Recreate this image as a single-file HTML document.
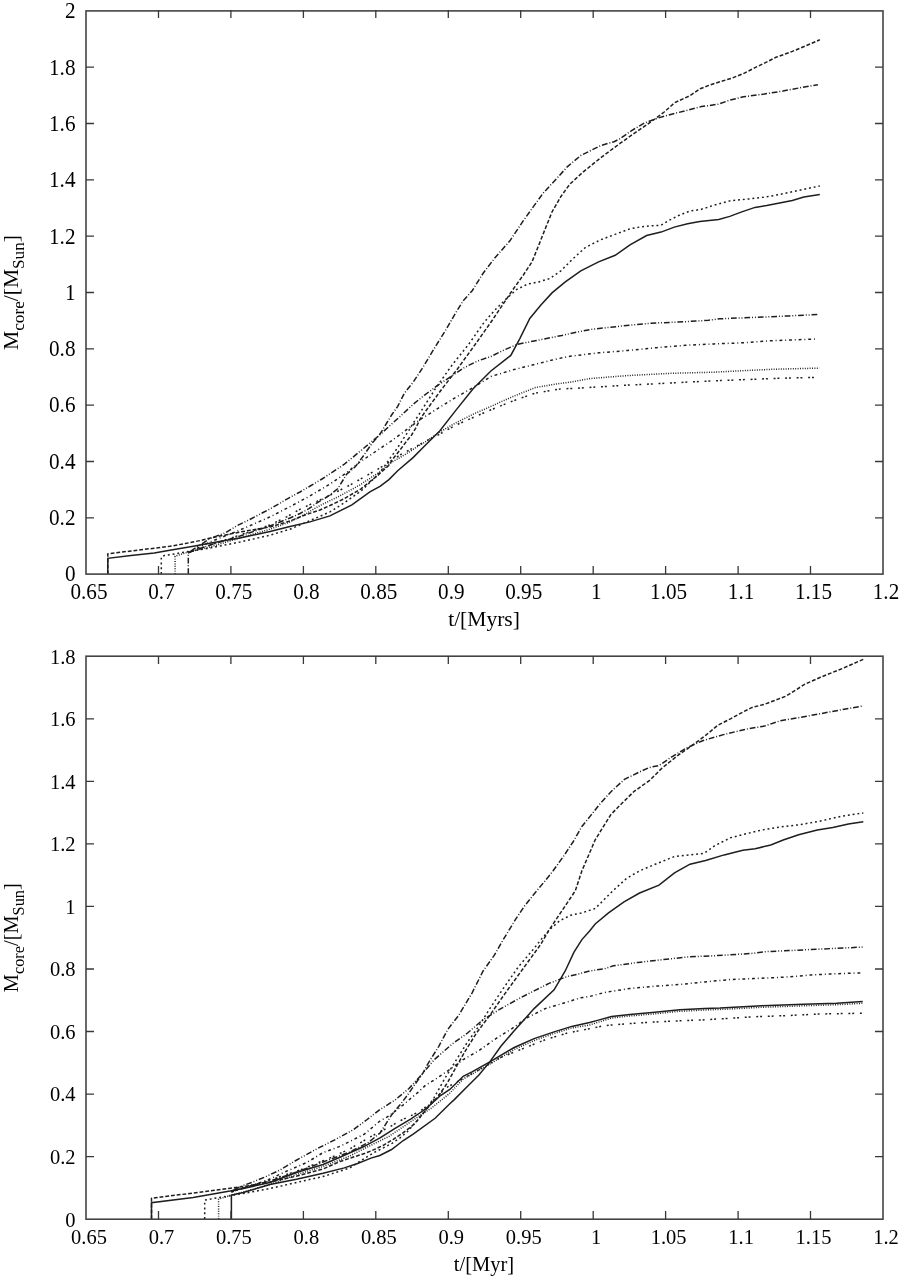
<!DOCTYPE html><html><head><meta charset="utf-8"><style>html,body{margin:0;padding:0;background:#fff;}svg{display:block;will-change:transform;}text{font-family:"Liberation Serif",serif;fill:#000;}</style></head><body>
<svg width="902" height="1277" viewBox="0 0 902 1277">
<rect width="902" height="1277" fill="#fff"/>
<path d="M107.8 574.0 L107.8 558.3 L131.0 555.6 L154.3 552.9 L169.8 550.2 L193.3 546.2 L216.6 541.9 L239.8 538.0 L270.0 531.6 L290.0 526.6 L309.9 521.9 L329.9 515.9 L351.9 504.9 L369.9 491.9 L380.0 486.3 L388.9 479.6 L397.7 470.7 L413.3 457.4 L424.3 446.3 L439.9 430.8 L455.4 410.9 L473.1 388.7 L490.9 371.0 L510.8 355.4 L519.7 338.8 L529.8 318.4 L540.9 305.1 L552.0 292.9 L565.3 281.9 L580.8 270.8 L598.6 261.9 L615.2 255.3 L630.0 244.9 L646.6 235.5 L661.0 232.1 L674.3 227.1 L687.6 223.8 L699.8 221.4 L718.7 219.4 L729.8 216.4 L741.1 212.1 L755.0 207.4 L766.7 205.6 L778.3 203.2 L792.3 200.4 L803.9 197.0 L819.8 194.6" fill="none" stroke="#1e1e1e" stroke-width="1.5"/>
<path d="M107.8 574.0 L107.8 553.8 L131.0 551.0 L154.3 548.2 L169.8 546.3 L185.5 543.5 L201.0 540.4 L210.4 538.0 L240.0 532.0 L270.0 527.0 L290.0 521.0 L305.0 515.0 L320.0 510.0 L330.0 505.5 L344.3 498.7 L361.0 488.8 L377.6 475.5 L388.7 465.5 L392.9 458.9 L400.3 449.6 L406.3 441.6 L411.6 435.0 L415.6 428.3 L420.2 419.0 L424.3 413.0 L442.1 388.7 L457.6 368.7 L475.3 344.3 L490.9 322.2 L503.2 304.0 L512.1 290.7 L523.2 275.2 L532.0 261.9 L538.7 245.3 L545.3 228.6 L552.0 212.0 L560.9 196.5 L569.7 184.3 L583.0 172.1 L600.8 157.7 L620.0 143.4 L631.6 135.2 L643.3 127.1 L654.9 119.0 L664.2 112.0 L674.7 102.7 L689.8 95.7 L700.3 88.7 L710.8 84.7 L720.1 81.7 L731.8 78.2 L743.4 73.6 L755.0 67.7 L764.4 63.1 L776.0 57.3 L792.3 51.4 L806.3 45.6 L819.8 39.8" fill="none" stroke="#1e1e1e" stroke-width="1.5" stroke-dasharray="3.84 1.92"/>
<path d="M161.3 574.0 L161.3 556.8 L164.4 555.6 L169.8 554.8 L185.0 552.0 L210.0 548.0 L240.0 542.0 L270.0 535.2 L290.0 529.2 L310.0 520.6 L330.0 511.9 L344.0 503.0 L361.0 491.0 L377.6 475.0 L385.0 465.5 L389.6 458.9 L394.9 451.6 L400.3 443.6 L404.9 436.3 L408.2 431.6 L412.9 423.6 L418.2 415.7 L425.0 405.0 L435.4 388.7 L451.0 366.5 L468.7 344.3 L484.2 322.2 L494.3 310.7 L505.4 299.6 L516.5 289.6 L527.6 284.1 L538.7 281.9 L549.8 278.5 L560.9 270.8 L572.0 259.7 L585.3 247.5 L600.8 239.7 L618.5 233.1 L630.0 228.8 L641.1 226.8 L652.2 225.7 L661.0 225.3 L668.8 220.5 L679.9 214.9 L689.9 211.1 L701.0 209.4 L713.1 205.5 L729.8 200.9 L750.4 198.8 L769.0 196.5 L787.6 192.8 L806.3 188.8 L819.8 186.0" fill="none" stroke="#1e1e1e" stroke-width="1.5" stroke-dasharray="1.92 2.88"/>
<path d="M175.1 574.0 L175.1 556.3 L185.0 553.0 L210.0 547.0 L240.0 538.0 L270.0 529.2 L290.0 521.9 L306.6 513.3 L320.0 505.5 L339.9 495.9 L359.9 484.9 L379.8 471.9 L388.9 464.1 L406.6 453.5 L424.3 442.5 L439.9 431.9 L455.4 423.1 L473.1 414.2 L490.9 406.4 L513.0 396.5 L535.2 387.6 L557.4 383.8 L570.0 382.2 L590.2 378.5 L627.7 375.6 L670.9 373.3 L714.1 372.2 L743.0 370.7 L771.8 369.3 L819.4 368.1" fill="none" stroke="#1e1e1e" stroke-width="1.5" stroke-dasharray="0.96 1.44"/>
<path d="M188.3 574.0 L188.3 552.7 L210.0 545.0 L240.0 536.0 L270.0 526.0 L290.0 518.0 L300.0 513.5 L308.9 508.7 L316.6 503.2 L327.7 496.5 L337.7 488.8 L346.6 474.3 L355.4 466.6 L364.0 455.0 L372.1 443.3 L380.3 433.6 L391.6 415.0 L397.7 406.4 L404.4 393.1 L413.3 382.0 L422.1 368.7 L435.4 346.6 L446.5 328.8 L455.4 313.3 L463.0 301.0 L472.2 290.7 L483.3 273.0 L494.3 258.6 L509.9 240.8 L523.2 220.9 L534.3 205.4 L543.1 193.2 L556.4 178.8 L567.5 166.6 L580.8 155.5 L600.8 145.5 L614.1 141.7 L620.0 138.7 L631.6 130.6 L643.3 123.6 L654.9 119.0 L666.6 115.5 L685.2 110.8 L701.5 106.6 L717.8 104.3 L729.4 100.3 L743.4 96.8 L764.4 94.0 L783.0 91.0 L801.6 87.5 L817.9 84.7" fill="none" stroke="#1e1e1e" stroke-width="1.5" stroke-dasharray="5.76 1.92 0.96 1.92"/>
<path d="M188.3 552.7 L210.0 542.0 L240.0 530.0 L270.0 516.9 L290.0 506.6 L309.9 496.0 L329.9 484.0 L344.9 473.9 L359.9 462.0 L374.9 452.0 L389.8 442.0 L402.2 433.0 L419.9 419.7 L437.6 408.6 L455.4 397.6 L473.1 387.6 L490.9 376.5 L513.0 369.8 L535.2 364.3 L557.4 358.8 L570.0 356.3 L598.8 352.8 L627.7 350.5 L656.5 347.7 L685.3 345.3 L714.1 343.9 L743.0 342.8 L771.8 340.7 L817.3 339.0" fill="none" stroke="#1e1e1e" stroke-width="1.5" stroke-dasharray="2.88 2.88 0.96 2.88"/>
<path d="M188.3 552.7 L210.0 545.0 L240.0 535.0 L270.0 525.0 L286.6 516.9 L299.9 509.3 L309.9 504.6 L319.9 500.0 L329.9 495.3 L350.0 485.0 L380.0 468.0 L400.0 455.0 L424.3 441.9 L437.6 435.3 L455.4 425.3 L473.1 417.5 L490.9 409.8 L513.0 400.9 L535.2 393.1 L561.8 388.7 L570.0 388.6 L598.8 386.9 L627.7 385.1 L656.5 383.7 L685.3 382.2 L714.1 380.8 L743.0 379.7 L771.8 378.5 L819.4 377.3" fill="none" stroke="#1e1e1e" stroke-width="1.5" stroke-dasharray="1.92 1.92 1.92 5.76"/>
<path d="M188.3 552.7 L210.0 538.5 L225.9 532.5 L236.5 525.9 L249.8 519.5 L263.1 512.5 L270.0 509.0 L290.0 497.3 L300.0 492.0 L322.0 479.0 L344.0 464.5 L364.0 448.0 L380.3 434.5 L390.0 425.5 L400.0 416.5 L413.3 404.2 L424.3 395.3 L437.6 385.4 L451.0 376.5 L464.3 367.6 L477.6 361.0 L490.9 356.5 L504.2 349.9 L517.5 344.3 L539.6 339.9 L561.8 335.5 L575.0 332.5 L590.2 329.5 L621.9 326.0 L650.7 323.2 L685.3 321.7 L708.4 320.3 L719.9 318.8 L754.5 317.4 L789.1 315.9 L818.5 314.5" fill="none" stroke="#1e1e1e" stroke-width="1.5" stroke-dasharray="0.96 1.92 5.76 1.92 0.96 1.92"/>
<rect x="86" y="10.9" width="797" height="563.2" fill="none" stroke="#444" stroke-width="1.6"/>
<path d="M158.5 574 v-8 M158.5 10 v8 M230.9 574 v-8 M230.9 10 v8 M303.4 574 v-8 M303.4 10 v8 M375.8 574 v-8 M375.8 10 v8 M448.3 574 v-8 M448.3 10 v8 M520.7 574 v-8 M520.7 10 v8 M593.2 574 v-8 M593.2 10 v8 M665.6 574 v-8 M665.6 10 v8 M738.1 574 v-8 M738.1 10 v8 M810.5 574 v-8 M810.5 10 v8 M86 517.8 h8 M883 517.8 h-8 M86 461.5 h8 M883 461.5 h-8 M86 405.1 h8 M883 405.1 h-8 M86 348.8 h8 M883 348.8 h-8 M86 292.5 h8 M883 292.5 h-8 M86 236.2 h8 M883 236.2 h-8 M86 179.9 h8 M883 179.9 h-8 M86 123.5 h8 M883 123.5 h-8 M86 67.2 h8 M883 67.2 h-8" stroke="#383838" stroke-width="1.3" fill="none"/>
<text transform="translate(89.0 598.9) scale(0.985 1.070)" font-size="21.5" text-anchor="middle">0.65</text>
<text transform="translate(161.5 598.9) scale(0.985 1.070)" font-size="21.5" text-anchor="middle">0.7</text>
<text transform="translate(233.9 598.9) scale(0.985 1.070)" font-size="21.5" text-anchor="middle">0.75</text>
<text transform="translate(306.4 598.9) scale(0.985 1.070)" font-size="21.5" text-anchor="middle">0.8</text>
<text transform="translate(378.8 598.9) scale(0.985 1.070)" font-size="21.5" text-anchor="middle">0.85</text>
<text transform="translate(451.3 598.9) scale(0.985 1.070)" font-size="21.5" text-anchor="middle">0.9</text>
<text transform="translate(523.7 598.9) scale(0.985 1.070)" font-size="21.5" text-anchor="middle">0.95</text>
<text transform="translate(596.2 598.9) scale(0.985 1.070)" font-size="21.5" text-anchor="middle">1</text>
<text transform="translate(668.6 598.9) scale(0.985 1.070)" font-size="21.5" text-anchor="middle">1.05</text>
<text transform="translate(741.1 598.9) scale(0.985 1.070)" font-size="21.5" text-anchor="middle">1.1</text>
<text transform="translate(813.5 598.9) scale(0.985 1.070)" font-size="21.5" text-anchor="middle">1.15</text>
<text transform="translate(886.0 598.9) scale(0.985 1.070)" font-size="21.5" text-anchor="middle">1.2</text>
<text transform="translate(75.5 581.4) scale(0.985 1.070)" font-size="21.5" text-anchor="end">0</text>
<text transform="translate(75.5 525.1) scale(0.985 1.070)" font-size="21.5" text-anchor="end">0.2</text>
<text transform="translate(75.5 468.8) scale(0.985 1.070)" font-size="21.5" text-anchor="end">0.4</text>
<text transform="translate(75.5 412.4) scale(0.985 1.070)" font-size="21.5" text-anchor="end">0.6</text>
<text transform="translate(75.5 356.1) scale(0.985 1.070)" font-size="21.5" text-anchor="end">0.8</text>
<text transform="translate(75.5 299.8) scale(0.985 1.070)" font-size="21.5" text-anchor="end">1</text>
<text transform="translate(75.5 243.5) scale(0.985 1.070)" font-size="21.5" text-anchor="end">1.2</text>
<text transform="translate(75.5 187.2) scale(0.985 1.070)" font-size="21.5" text-anchor="end">1.4</text>
<text transform="translate(75.5 130.8) scale(0.985 1.070)" font-size="21.5" text-anchor="end">1.6</text>
<text transform="translate(75.5 74.5) scale(0.985 1.070)" font-size="21.5" text-anchor="end">1.8</text>
<text transform="translate(75.5 18.2) scale(0.985 1.070)" font-size="21.5" text-anchor="end">2</text>
<text x="484.0" y="626.3" font-size="21.5" text-anchor="middle">t/[Myrs]</text>
<text transform="translate(17.9 292.5) rotate(-90)" font-size="21.5" text-anchor="middle">M<tspan font-size="17.2" dy="6.5">core</tspan><tspan dy="-6.5">/[M</tspan><tspan font-size="17.2" dy="6.5">Sun</tspan><tspan dy="-6.5">]</tspan></text>
<path d="M151.5 1219.0 L151.5 1202.7 L193.2 1197.4 L230.0 1191.1 L243.3 1188.5 L269.9 1182.5 L296.5 1172.5 L323.1 1164.5 L340.0 1157.3 L364.4 1146.3 L380.0 1137.8 L395.5 1128.1 L411.0 1118.8 L422.7 1111.0 L430.4 1104.8 L440.5 1095.5 L449.8 1089.5 L463.2 1076.3 L472.0 1071.8 L489.8 1061.9 L514.2 1047.5 L534.1 1038.6 L554.1 1031.9 L571.8 1026.4 L589.6 1022.5 L596.6 1020.6 L611.6 1016.5 L629.9 1014.5 L654.8 1012.3 L679.8 1009.8 L704.7 1008.5 L720.0 1008.0 L761.6 1005.7 L803.2 1004.3 L836.4 1003.2 L862.7 1001.5" fill="none" stroke="#1e1e1e" stroke-width="1.5"/>
<path d="M231.4 1219.0 L231.4 1195.0 L243.3 1192.5 L269.9 1184.5 L296.5 1179.2 L323.1 1173.2 L344.3 1167.9 L357.6 1163.5 L371.0 1158.1 L379.8 1155.5 L391.6 1149.5 L403.3 1140.5 L413.2 1134.1 L435.1 1118.3 L449.8 1103.7 L454.3 1099.6 L467.6 1086.3 L478.7 1075.2 L489.8 1061.9 L500.9 1046.3 L514.2 1030.8 L534.1 1008.6 L554.1 989.8 L565.2 971.0 L574.0 952.1 L581.9 939.6 L589.6 931.0 L595.2 924.0 L608.5 912.9 L624.0 901.9 L639.6 893.0 L659.0 885.2 L674.5 872.8 L690.0 864.2 L705.6 860.5 L724.2 854.9 L742.8 850.3 L755.2 848.7 L770.8 845.0 L783.2 840.0 L798.7 834.7 L817.3 830.1 L832.8 827.6 L848.4 823.9 L863.3 821.7" fill="none" stroke="#1e1e1e" stroke-width="1.5"/>
<path d="M151.5 1219.0 L151.5 1198.3 L193.2 1193.0 L228.7 1188.5 L250.0 1185.5 L270.0 1182.0 L297.0 1176.0 L323.0 1169.0 L340.0 1161.5 L364.4 1153.5 L372.0 1150.6 L383.3 1145.3 L393.3 1139.3 L403.3 1132.6 L411.3 1126.6 L416.6 1121.3 L425.0 1111.0 L431.0 1104.0 L438.5 1096.0 L447.6 1082.5 L456.5 1066.3 L465.4 1050.8 L476.5 1033.0 L489.8 1015.3 L505.3 993.1 L523.0 968.7 L540.8 944.3 L548.6 930.7 L557.5 917.4 L566.4 904.1 L575.3 890.8 L581.9 870.8 L588.6 855.3 L595.2 839.8 L604.1 825.4 L611.0 814.4 L621.7 803.5 L634.2 791.3 L649.7 780.4 L662.1 768.0 L677.6 755.6 L693.1 744.7 L705.6 735.4 L718.0 725.1 L730.4 718.9 L742.8 712.1 L752.1 707.4 L764.5 704.3 L786.3 696.0 L804.9 684.2 L820.4 677.3 L842.2 668.6 L863.3 659.3" fill="none" stroke="#1e1e1e" stroke-width="1.5" stroke-dasharray="3.84 1.92"/>
<path d="M204.7 1219.0 L204.7 1200.1 L219.8 1197.4 L243.3 1193.5 L269.9 1188.5 L296.5 1182.5 L323.1 1176.5 L349.7 1168.0 L365.0 1158.0 L374.0 1152.6 L383.3 1147.9 L392.0 1143.3 L400.0 1138.0 L407.0 1132.0 L417.0 1121.0 L425.0 1111.0 L434.3 1097.3 L445.4 1077.4 L456.5 1059.6 L467.6 1041.9 L478.7 1026.4 L489.8 1008.6 L503.1 988.7 L518.6 966.5 L531.9 951.0 L542.0 938.4 L550.9 928.5 L559.7 920.7 L570.8 915.2 L581.9 912.9 L595.2 908.5 L612.9 890.8 L626.3 878.6 L639.6 870.8 L659.0 862.7 L674.5 856.5 L690.0 854.9 L704.0 853.4 L714.9 845.6 L730.4 837.8 L745.9 833.8 L761.4 830.1 L780.1 827.0 L798.7 824.8 L817.3 821.7 L842.2 816.1 L863.3 813.0" fill="none" stroke="#1e1e1e" stroke-width="1.5" stroke-dasharray="1.92 2.88"/>
<path d="M218.6 1219.0 L218.6 1199.2 L230.0 1195.5 L243.3 1192.0 L269.9 1184.5 L296.5 1174.5 L323.1 1166.5 L349.7 1156.0 L364.4 1148.5 L388.8 1136.5 L411.0 1121.5 L431.5 1108.0 L449.8 1093.2 L463.2 1079.0 L489.8 1064.0 L514.2 1049.5 L534.1 1040.5 L554.1 1033.5 L571.8 1028.0 L589.6 1025.0 L611.6 1018.0 L629.9 1016.0 L654.8 1013.8 L679.8 1011.3 L704.7 1010.0 L729.7 1009.0 L761.6 1007.3 L803.2 1005.8 L836.4 1004.7 L862.7 1003.3" fill="none" stroke="#1e1e1e" stroke-width="1.5" stroke-dasharray="0.96 1.44"/>
<path d="M231.4 1191.0 L243.3 1188.0 L270.0 1181.0 L297.0 1172.0 L323.0 1162.0 L349.8 1152.0 L368.0 1142.7 L380.2 1132.9 L391.6 1114.9 L399.4 1105.6 L407.2 1095.5 L418.0 1080.0 L422.9 1073.2 L427.7 1064.1 L438.8 1046.3 L447.6 1029.7 L458.7 1015.3 L472.0 993.1 L483.1 971.0 L494.2 955.4 L503.1 939.9 L515.4 919.6 L524.3 906.3 L533.1 895.2 L544.2 881.9 L553.1 870.8 L564.2 855.3 L573.0 842.0 L581.9 826.5 L590.8 815.4 L599.6 804.3 L611.0 791.7 L624.4 779.4 L638.5 772.4 L649.7 767.4 L659.0 765.5 L671.4 757.1 L686.9 747.8 L702.5 740.7 L724.2 734.4 L745.9 729.2 L764.5 726.1 L780.1 720.8 L798.7 717.7 L817.3 714.3 L842.2 709.6 L863.3 705.9" fill="none" stroke="#1e1e1e" stroke-width="1.5" stroke-dasharray="5.76 1.92 0.96 1.92"/>
<path d="M231.4 1192.0 L250.0 1186.0 L267.9 1179.9 L284.9 1171.9 L306.8 1162.5 L323.1 1152.6 L340.0 1146.3 L364.4 1134.1 L380.0 1121.0 L388.8 1116.0 L403.3 1104.8 L418.8 1091.6 L425.4 1085.4 L434.3 1080.0 L449.8 1069.5 L463.2 1059.6 L478.7 1050.8 L494.2 1039.7 L512.0 1028.6 L527.5 1017.5 L545.2 1008.6 L567.4 1002.0 L580.0 997.9 L589.6 996.5 L604.9 992.4 L629.9 988.5 L654.8 986.2 L679.8 984.5 L704.7 981.9 L729.7 979.6 L753.3 978.6 L786.5 977.1 L811.5 974.9 L836.4 973.7 L860.5 972.9" fill="none" stroke="#1e1e1e" stroke-width="1.5" stroke-dasharray="2.88 2.88 0.96 2.88"/>
<path d="M231.4 1192.0 L243.0 1188.0 L270.0 1180.0 L300.0 1170.0 L329.8 1158.0 L349.7 1149.0 L370.0 1137.0 L390.1 1126.6 L401.7 1120.0 L412.6 1114.9 L420.4 1111.0 L430.4 1103.3 L438.2 1095.5 L446.0 1087.8 L465.4 1077.4 L483.1 1067.4 L500.9 1057.4 L523.0 1048.6 L545.2 1039.7 L567.4 1033.0 L580.0 1030.6 L604.9 1025.6 L629.9 1023.5 L654.8 1022.0 L679.8 1020.8 L704.7 1019.8 L724.7 1018.6 L753.3 1016.8 L786.5 1015.6 L819.8 1014.0 L862.7 1013.2" fill="none" stroke="#1e1e1e" stroke-width="1.5" stroke-dasharray="1.92 1.92 1.92 5.76"/>
<path d="M231.4 1191.0 L243.0 1185.5 L253.0 1182.0 L265.0 1177.0 L280.0 1170.0 L295.0 1161.0 L300.0 1158.1 L317.7 1148.4 L335.5 1139.5 L353.2 1129.8 L366.5 1120.0 L380.0 1109.5 L395.0 1100.0 L409.0 1088.5 L422.9 1073.2 L434.3 1059.6 L452.1 1044.1 L467.6 1033.0 L483.1 1019.7 L500.9 1008.6 L518.6 998.7 L534.1 990.9 L549.6 983.1 L567.4 976.5 L580.0 973.6 L589.6 971.0 L604.9 968.6 L613.3 965.8 L638.2 962.4 L663.2 959.6 L688.1 956.9 L713.0 955.8 L729.7 954.9 L753.3 953.3 L766.6 951.6 L794.8 950.3 L819.8 949.1 L862.7 947.1" fill="none" stroke="#1e1e1e" stroke-width="1.5" stroke-dasharray="0.96 1.92 5.76 1.92 0.96 1.92"/>
<rect x="86" y="656.2" width="797" height="563.0" fill="none" stroke="#444" stroke-width="1.6"/>
<path d="M158.5 1219 v-8 M158.5 656 v8 M230.9 1219 v-8 M230.9 656 v8 M303.4 1219 v-8 M303.4 656 v8 M375.8 1219 v-8 M375.8 656 v8 M448.3 1219 v-8 M448.3 656 v8 M520.7 1219 v-8 M520.7 656 v8 M593.2 1219 v-8 M593.2 656 v8 M665.6 1219 v-8 M665.6 656 v8 M738.1 1219 v-8 M738.1 656 v8 M810.5 1219 v-8 M810.5 656 v8 M86 1156.6 h8 M883 1156.6 h-8 M86 1094.1 h8 M883 1094.1 h-8 M86 1031.5 h8 M883 1031.5 h-8 M86 969.0 h8 M883 969.0 h-8 M86 906.4 h8 M883 906.4 h-8 M86 843.9 h8 M883 843.9 h-8 M86 781.3 h8 M883 781.3 h-8 M86 718.8 h8 M883 718.8 h-8" stroke="#383838" stroke-width="1.3" fill="none"/>
<text transform="translate(89.0 1244.0) scale(1.000 1.060)" font-size="20.5" text-anchor="middle">0.65</text>
<text transform="translate(161.5 1244.0) scale(1.000 1.060)" font-size="20.5" text-anchor="middle">0.7</text>
<text transform="translate(233.9 1244.0) scale(1.000 1.060)" font-size="20.5" text-anchor="middle">0.75</text>
<text transform="translate(306.4 1244.0) scale(1.000 1.060)" font-size="20.5" text-anchor="middle">0.8</text>
<text transform="translate(378.8 1244.0) scale(1.000 1.060)" font-size="20.5" text-anchor="middle">0.85</text>
<text transform="translate(451.3 1244.0) scale(1.000 1.060)" font-size="20.5" text-anchor="middle">0.9</text>
<text transform="translate(523.7 1244.0) scale(1.000 1.060)" font-size="20.5" text-anchor="middle">0.95</text>
<text transform="translate(596.2 1244.0) scale(1.000 1.060)" font-size="20.5" text-anchor="middle">1</text>
<text transform="translate(668.6 1244.0) scale(1.000 1.060)" font-size="20.5" text-anchor="middle">1.05</text>
<text transform="translate(741.1 1244.0) scale(1.000 1.060)" font-size="20.5" text-anchor="middle">1.1</text>
<text transform="translate(813.5 1244.0) scale(1.000 1.060)" font-size="20.5" text-anchor="middle">1.15</text>
<text transform="translate(886.0 1244.0) scale(1.000 1.060)" font-size="20.5" text-anchor="middle">1.2</text>
<text transform="translate(75.5 1226.5) scale(1.000 1.060)" font-size="20.5" text-anchor="end">0</text>
<text transform="translate(75.5 1163.9) scale(1.000 1.060)" font-size="20.5" text-anchor="end">0.2</text>
<text transform="translate(75.5 1101.4) scale(1.000 1.060)" font-size="20.5" text-anchor="end">0.4</text>
<text transform="translate(75.5 1038.8) scale(1.000 1.060)" font-size="20.5" text-anchor="end">0.6</text>
<text transform="translate(75.5 976.3) scale(1.000 1.060)" font-size="20.5" text-anchor="end">0.8</text>
<text transform="translate(75.5 913.7) scale(1.000 1.060)" font-size="20.5" text-anchor="end">1</text>
<text transform="translate(75.5 851.2) scale(1.000 1.060)" font-size="20.5" text-anchor="end">1.2</text>
<text transform="translate(75.5 788.6) scale(1.000 1.060)" font-size="20.5" text-anchor="end">1.4</text>
<text transform="translate(75.5 726.1) scale(1.000 1.060)" font-size="20.5" text-anchor="end">1.6</text>
<text transform="translate(75.5 663.5) scale(1.000 1.060)" font-size="20.5" text-anchor="end">1.8</text>
<text x="484.0" y="1271.4" font-size="20.5" text-anchor="middle">t/[Myr]</text>
<text transform="translate(17.9 937.7) rotate(-90)" font-size="20.4" text-anchor="middle">M<tspan font-size="16.3" dy="6.5">core</tspan><tspan dy="-6.5">/[M</tspan><tspan font-size="16.3" dy="6.5">Sun</tspan><tspan dy="-6.5">]</tspan></text>
</svg></body></html>
